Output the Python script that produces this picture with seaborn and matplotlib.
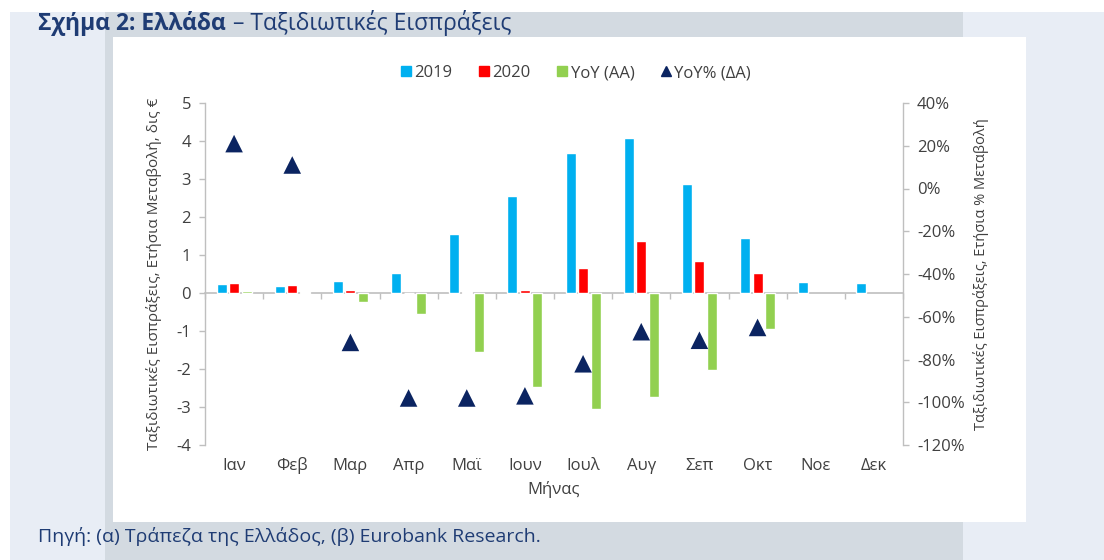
import numpy as np
import pandas as pd
import matplotlib
matplotlib.use("Agg")
import matplotlib.pyplot as plt
import seaborn as sns
from matplotlib.patches import Rectangle
from matplotlib.lines import Line2D
from matplotlib.ticker import FuncFormatter

nan = np.nan
months = ['Ιαν', 'Φεβ', 'Μαρ', 'Απρ', 'Μαϊ', 'Ιουν', 'Ιουλ', 'Αυγ', 'Σεπ', 'Οκτ', 'Νοε', 'Δεκ']
receipts_2019 = [0.23, 0.18, 0.31, 0.53, 1.55, 2.54, 3.69, 4.09, 2.86, 1.45, 0.30, 0.27]
receipts_2020 = [0.27, 0.21, 0.08, 0.01, 0.035, 0.07, 0.66, 1.36, 0.85, 0.52, nan, nan]
yoy_change = [0.04, 0.03, -0.24, -0.55, -1.54, -2.48, -3.04, -2.73, -2.03, -0.96, nan, nan]
yoy_pct = [21, 11, -72, -98, -98, -97, -82, -67, -71, -65, nan, nan]

series_names = ['2019', '2020', 'YoY (ΑΑ)', 'YoY% (ΔΑ)']
left_ticks = list(range(-4, 6))
right_ticks = list(range(-120, 41, 20))

title_bold = 'Σχήμα 2: Ελλάδα'
title_rest = '– Ταξιδιωτικές Εισπράξεις'
source_text = 'Πηγή: (α) Τράπεζα της Ελλάδος, (β) Eurobank Research.'
ylabel_left = 'Ταξιδιωτικές Εισπράξεις, Ετήσια Μεταβολή, δις €'
ylabel_right = 'Ταξιδιωτικές Εισπράξεις, Ετήσια % Μεταβολή'
xlabel = 'Μήνας'

c_blue = '#00b0f0'
c_red = '#ff0000'
c_green = '#92d050'
c_navy = '#0b2461'
c_title = '#1f3c74'
c_text = '#404040'
c_axis = '#bfbfbf'

sns.set_theme(style='white')
plt.rcParams['font.family'] = ['Open Sans', 'DejaVu Sans']
plt.rcParams['axes.unicode_minus'] = False

W, H = 1104, 560
fig = plt.figure(figsize=(W / 100, H / 100), dpi=100, facecolor='white')


def frect(x0, y0, x1, y1, color, z):
    fig.add_artist(Rectangle((x0 / W, 1 - y1 / H), (x1 - x0) / W, (y1 - y0) / H,
                             transform=fig.transFigure, facecolor=color,
                             edgecolor='none', zorder=z))


frect(10, 12, W, H, '#e8edf5', -30)
frect(105, 12, 963, H, '#d3dae1', -20)
frect(113, 37, 1026, 522, 'white', -10)

ax = fig.add_axes([205 / W, 1 - 445 / H, (903 - 205) / W, (445 - 103) / H])
ax.set_facecolor('none')

df = pd.DataFrame({
    'month': months * 3,
    'value': receipts_2019 + receipts_2020 + yoy_change,
    'series': [series_names[0]] * 12 + [series_names[1]] * 12 + [series_names[2]] * 12,
})
sns.barplot(data=df, x='month', y='value', hue='series', order=months,
            hue_order=series_names[:3], palette=[c_blue, c_red, c_green],
            width=0.645, gap=0.21, saturation=1, errorbar=None, legend=False, ax=ax)

ax.set_ylim(left_ticks[0], left_ticks[-1])
ax.set_yticks(left_ticks)
ax.set_xlim(-0.5, len(months) - 0.5)
ax.set_xticks(range(len(months)))
ax.set_xticklabels(months)
ax.tick_params(axis='x', length=0, pad=9, labelsize=12, labelcolor=c_text)
ax.tick_params(axis='y', left=True, length=4, width=1, color=c_axis, pad=6,
               labelsize=12, labelcolor=c_text)
ax.set_xlabel(xlabel, fontsize=12, color=c_text, labelpad=5)
ax.set_ylabel(ylabel_left, fontsize=11, color=c_text, labelpad=10)
for s in ['top', 'right', 'bottom']:
    ax.spines[s].set_visible(False)
ax.spines['left'].set_color(c_axis)
ax.spines['left'].set_linewidth(1)

# zero line with category boundary ticks
lo, hi = ax.get_ylim()
sec = ax.secondary_xaxis((0 - lo) / (hi - lo))
sec.set_xticks(np.arange(len(months) + 1) - 0.5)
sec.tick_params(axis='x', length=4, width=1, color=c_axis, labelbottom=False, labeltop=False)
for s in sec.spines.values():
    s.set_color(c_axis)
    s.set_linewidth(1.2)

ax2 = ax.twinx()
ax2.set_facecolor('none')
sns.scatterplot(x=np.arange(len(months)), y=yoy_pct, marker='^', s=160,
                color=c_navy, edgecolor='none', ax=ax2, zorder=5)
ax2.set_ylim(right_ticks[0], right_ticks[-1])
ax2.set_yticks(right_ticks)
ax2.yaxis.set_major_formatter(FuncFormatter(lambda v, p: f'{v:.0f}%'))
ax2.tick_params(axis='y', right=True, length=4, width=1, color=c_axis, pad=6,
                labelsize=12, labelcolor=c_text)
for s in ['top', 'left', 'bottom']:
    ax2.spines[s].set_visible(False)
ax2.spines['right'].set_color(c_axis)
ax2.spines['right'].set_linewidth(1)
ax2.set_ylabel(ylabel_right, fontsize=10.5, color=c_text, rotation=90, labelpad=6)

handles = [
    Line2D([], [], marker='s', linestyle='none', markersize=7.5, color=c_blue),
    Line2D([], [], marker='s', linestyle='none', markersize=7.5, color=c_red),
    Line2D([], [], marker='s', linestyle='none', markersize=7.5, color=c_green),
    Line2D([], [], marker='^', linestyle='none', markersize=6.5, color=c_navy),
]
ax.legend(handles, series_names, loc='center', bbox_to_anchor=(576 / W, 1 - 73 / H),
          bbox_transform=fig.transFigure, ncol=4, frameon=False, handlelength=0.6,
          handletextpad=0.2, columnspacing=1.6, fontsize=12, labelcolor=c_text)

t1 = fig.text(38 / W, 1 - 23 / H, title_bold, fontsize=16.5, fontweight='bold',
              color=c_title, va='center', ha='left')
fig.canvas.draw()
bb = t1.get_window_extent()
fig.text((bb.x1 + 7) / W, 1 - 23 / H, title_rest, fontsize=16.5, color=c_title,
         va='center', ha='left')
fig.text(38 / W, 1 - 536 / H, source_text, fontsize=14, color=c_title,
         va='center', ha='left')

fig.savefig('out.png', dpi=100, facecolor=fig.get_facecolor())
